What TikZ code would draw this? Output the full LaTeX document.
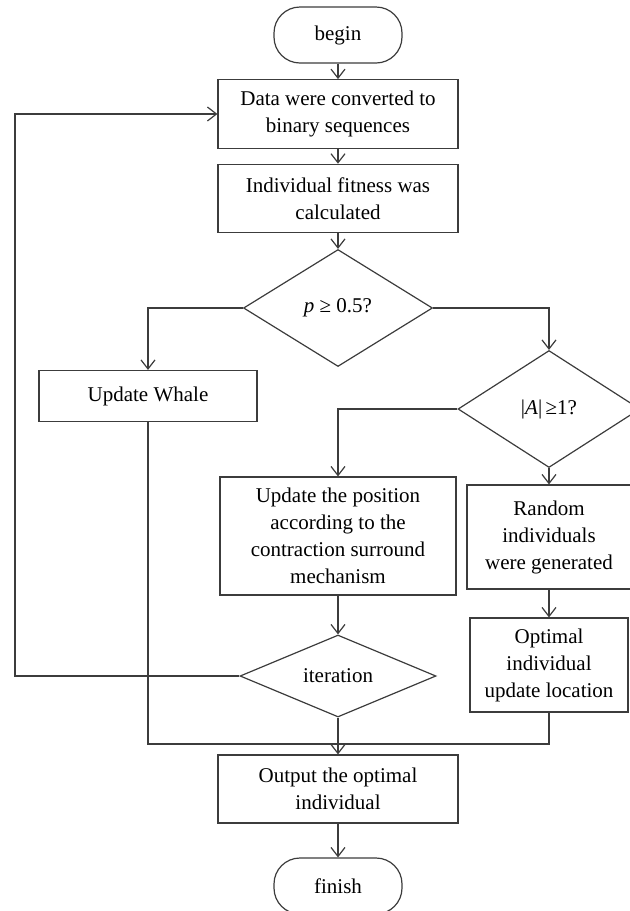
\documentclass[tikz,border=0pt]{standalone}
\usepackage{fontspec}
\setmainfont{Liberation Serif}
\usepackage{tikz}
\usetikzlibrary{shapes.geometric,arrows.meta}
\definecolor{linegray}{RGB}{60,60,60}

\begin{document}
\begin{tikzpicture}[x=0.5pt, y=-0.5pt,
    font=\fontsize{10.5}{13.5}\selectfont,
    term/.style={rectangle, rounded corners=13pt, draw=linegray,
                 line width=0.6pt, minimum width=64pt,
                 minimum height=28pt, align=center},
    box/.style={rectangle, draw=linegray, line width=0.6pt,
                inner sep=2pt, align=center},
    cond/.style={diamond, aspect=2, draw=linegray, line width=0.6pt,
                 inner sep=0pt, align=center},
    arr/.style={-{Straight Barb[length=4.5pt,width=7pt]}, line width=0.6pt,
                color=linegray},
    wire/.style={line width=0.6pt, color=linegray}]

    \useasboundingbox (0,0) rectangle (630,911);
    \clip (0,0) rectangle (630,911);

    % Main column
    \node[term] (begin) at (338, 35) {begin};
    \node[box, minimum width=120pt, minimum height=34.3pt] (data) at (338,114)
        {Data were converted to\\binary sequences};
    \node[box, minimum width=120pt, minimum height=34.2pt] (fit) at (338,198.5)
        {Individual fitness was\\calculated};
    \node[cond, minimum width=94.5pt, minimum height=58.5pt] (pq) at (338,308)
        {\textit{p} ≥ 0.5?};

    % Left branch
    \node[box, minimum width=109pt, minimum height=25.5pt] (whale) at (148,396)
        {\raisebox{2pt}{Update Whale}};

    % Right branch
    \node[cond, minimum width=91pt, minimum height=58.5pt] (aq) at (549,409)
        {|\textit{A}|\,≥1?};
    \node[box, minimum width=118pt, minimum height=59pt] (pos) at (338,536)
        {Update the position\\according to the\\contraction surround\\mechanism};
    \node[box, minimum width=82pt, minimum height=52pt] (rand) at (549,537)
        {Random\\individuals\\were generated};
    \node[box, minimum width=79pt, minimum height=47pt] (opt) at (549,665)
        {Optimal\\individual\\update location};
    \node[cond, minimum width=98pt, minimum height=41pt] (iter) at (338,676)
        {iteration};

    % End
    \node[box, minimum width=120pt, minimum height=34pt] (out) at (338,789)
        {Output the optimal\\individual};
    \node[term] (finish) at (338,886) {finish};

    \coordinate (loopx) at (15,400);
    \coordinate (join) at (338,744);

    % Main arrows
    \draw[arr] (begin) -- (data);
    \draw[arr] (data) -- (fit);
    \draw[arr] (fit) -- (pq);
    \draw[arr] (pq.west) -| (whale.north);
    \draw[arr] (pq.east) -| (aq.north);
    \draw[arr] (aq.west) -| (pos.north);
    \draw[arr] (aq.south) -- (rand.north);
    \draw[arr] (rand) -- (opt);
    \draw[arr] (pos) -- (iter);

    % Loop back
    \draw[arr] (iter.west) -| (loopx) |- (data.west);

    % Merge to output
    \draw[wire] (whale.south) |- (join) -| (opt.south);
    \draw[arr] (iter.south) -- (out.north);
    \draw[arr] (out) -- (finish);
\end{tikzpicture}
\end{document}
